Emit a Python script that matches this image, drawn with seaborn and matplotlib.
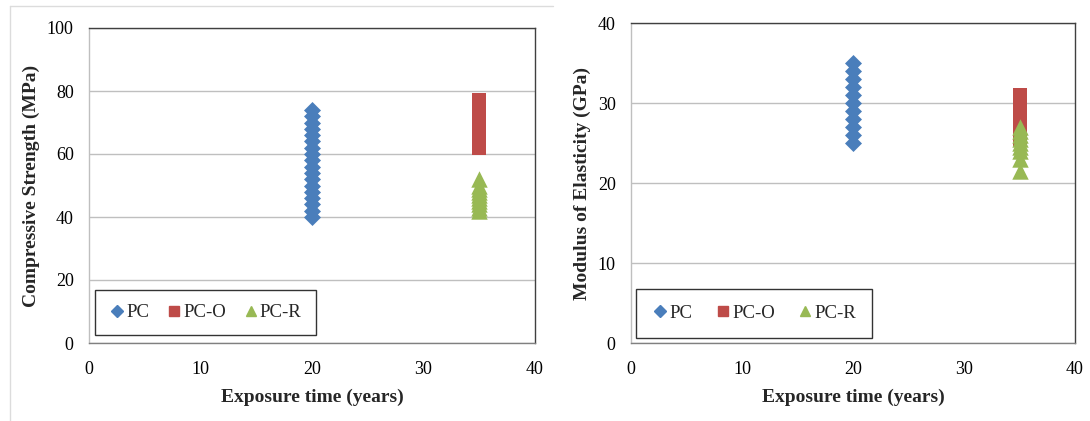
import matplotlib
matplotlib.use("Agg")
import matplotlib.pyplot as plt
import seaborn as sns
import pandas as pd
from matplotlib.lines import Line2D

# ---- data ----
cs_pc_x = [20] * 18
cs_pc_y = [40, 42, 44, 46, 48, 50, 52, 54, 56, 58, 60, 62, 64, 66, 68, 70, 72, 74]
cs_pco_x = [35] * 16
cs_pco_y = [62, 63, 64, 65, 66, 67, 68, 69, 70, 71, 72, 73, 74, 75, 76, 77]
cs_pcr_x = [35] * 10
cs_pcr_y = [42, 43, 44, 45, 46, 47, 48, 49, 50, 52]

me_pc_x = [20] * 11
me_pc_y = [25, 26, 27, 28, 29, 30, 31, 32, 33, 34, 35]
me_pco_x = [35] * 7
me_pco_y = [25.5, 26.5, 27.5, 28.5, 29.5, 30.5, 31]
me_pcr_x = [35] * 9
me_pcr_y = [21.5, 23, 24, 24.5, 25, 25.5, 26, 26.5, 27]

series_names = ["PC", "PC-O", "PC-R"]
x_ticks = [0, 10, 20, 30, 40]
cs_ticks = [0, 20, 40, 60, 80, 100]
me_ticks = [0, 10, 20, 30, 40]
x_label = "Exposure time (years)"
cs_label = "Compressive Strength (MPa)"
me_label = "Modulus of Elasticity (GPa)"

colors = {"PC": "#4A7EBB", "PC-O": "#BE4B48", "PC-R": "#98B954"}
markers = {"PC": "D", "PC-O": "s", "PC-R": "^"}
sizes = {"PC": 75, "PC-O": 115, "PC-R": 140}

def make_df(xs, ys):
    rows = []
    for name, x, y in zip(series_names, xs, ys):
        for xi, yi in zip(x, y):
            rows.append({"x": xi, "y": yi, "s": name})
    return pd.DataFrame(rows)

cs_df = make_df([cs_pc_x, cs_pco_x, cs_pcr_x], [cs_pc_y, cs_pco_y, cs_pcr_y])
me_df = make_df([me_pc_x, me_pco_x, me_pcr_x], [me_pc_y, me_pco_y, me_pcr_y])

sns.set_style("white")
plt.rcParams["font.family"] = ["Liberation Serif", "DejaVu Serif"]

fig = plt.figure(figsize=(10.9, 4.21), dpi=100)
W, H = 1090, 421
def rect(l, t, r, b):
    return [l / W, 1 - b / H, (r - l) / W, (b - t) / H]

ax1 = fig.add_axes(rect(89, 28, 535, 343))
ax2 = fig.add_axes(rect(631, 23, 1075, 343))

# outer chart-area frame lines (left panel)
fig.add_artist(Line2D([10 / W, 10 / W], [0, 1 - 6 / H], color="#dcdcdc", lw=1))
fig.add_artist(Line2D([10 / W, 553 / W], [1 - 6 / H, 1 - 6 / H], color="#dcdcdc", lw=1))

def draw(ax, df, yticks, ylabel, legend_bbox, colsp, bpad):
    for name in series_names:
        sub = df[df["s"] == name]
        sns.scatterplot(data=sub, x="x", y="y", ax=ax, marker=markers[name],
                        color=colors[name], s=sizes[name], linewidth=0,
                        label=name, zorder=3)
    ax.set_xlim(0, 40)
    ax.set_ylim(yticks[0], yticks[-1])
    ax.set_xticks(x_ticks)
    ax.set_yticks(yticks)
    ax.grid(axis="y", color="#bfbfbf", lw=1)
    ax.grid(axis="x", visible=False)
    ax.set_axisbelow(True)
    ax.tick_params(axis="both", length=0, labelsize=13, colors="black")
    ax.tick_params(axis="x", pad=13)
    ax.tick_params(axis="y", pad=11)
    ax.set_xlabel(x_label, fontsize=14, fontweight="bold", labelpad=8)
    ax.set_ylabel(ylabel, fontsize=14, fontweight="bold", labelpad=5)
    ax.spines["left"].set_color("#bfbfbf")
    ax.spines["bottom"].set_color("#808080")
    ax.spines["top"].set_color("#404040")
    ax.spines["right"].set_color("#404040")
    for sp in ax.spines.values():
        sp.set_linewidth(1)
    handles = [Line2D([], [], marker=markers[n], color=colors[n], linestyle="none",
                      markersize=6.5 if n == "PC" else 7.5) for n in series_names]
    leg = ax.legend(handles, series_names, loc="lower left", bbox_to_anchor=legend_bbox,
                    ncol=3, fontsize=13.5, frameon=True, fancybox=False,
                    handletextpad=0.05, columnspacing=colsp, borderpad=bpad,
                    handlelength=0.9, borderaxespad=0)
    leg.get_frame().set_edgecolor("black")
    leg.get_frame().set_linewidth(1)

draw(ax1, cs_df, cs_ticks, cs_label, (0.013, 0.025), 0.85, 0.75)
draw(ax2, me_df, me_ticks, me_label, (0.011, 0.016), 1.15, 0.85)

fig.savefig("out.png", dpi=100)
